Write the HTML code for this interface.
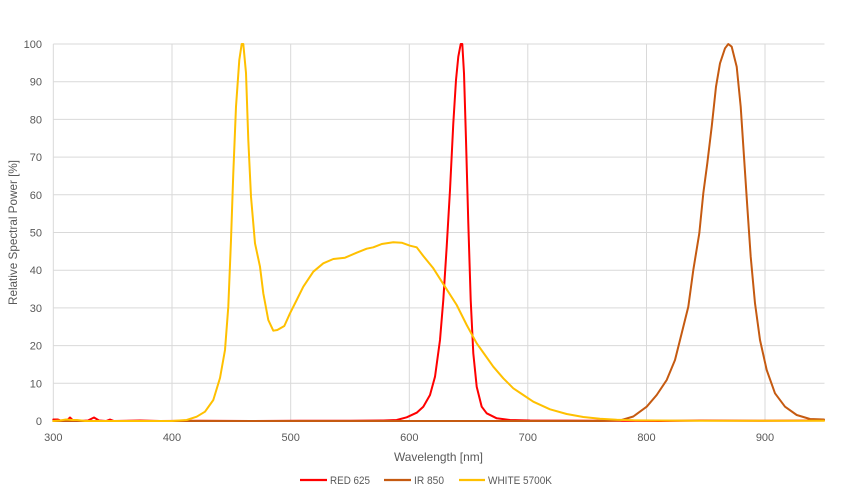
<!DOCTYPE html>
<html><head><meta charset="utf-8"><style>
html,body{margin:0;padding:0;background:#fff;}
svg{display:block;font-family:"Liberation Sans",sans-serif;}
</style></head><body>
<svg width="847" height="495" viewBox="0 0 847 495" xmlns="http://www.w3.org/2000/svg">
<rect width="847" height="495" fill="#fff"/>
<g stroke="#d9d9d9" stroke-width="1" fill="none">
<line x1="53.3" y1="44" x2="824.5" y2="44"/>
<line x1="53.3" y1="81.7" x2="824.5" y2="81.7"/>
<line x1="53.3" y1="119.4" x2="824.5" y2="119.4"/>
<line x1="53.3" y1="157.1" x2="824.5" y2="157.1"/>
<line x1="53.3" y1="194.8" x2="824.5" y2="194.8"/>
<line x1="53.3" y1="232.5" x2="824.5" y2="232.5"/>
<line x1="53.3" y1="270.2" x2="824.5" y2="270.2"/>
<line x1="53.3" y1="307.9" x2="824.5" y2="307.9"/>
<line x1="53.3" y1="345.6" x2="824.5" y2="345.6"/>
<line x1="53.3" y1="383.3" x2="824.5" y2="383.3"/>
<line x1="53.3" y1="421" x2="824.5" y2="421"/>
<line x1="53.3" y1="44" x2="53.3" y2="421"/>
<line x1="172" y1="44" x2="172" y2="421"/>
<line x1="290.7" y1="44" x2="290.7" y2="421"/>
<line x1="409.3" y1="44" x2="409.3" y2="421"/>
<line x1="527.8" y1="44" x2="527.8" y2="421"/>
<line x1="646.5" y1="44" x2="646.5" y2="421"/>
<line x1="765" y1="44" x2="765" y2="421"/>
</g>
<g fill="#595959" font-size="11" text-anchor="end">
<text x="42" y="48">100</text>
<text x="42" y="85.7">90</text>
<text x="42" y="123.4">80</text>
<text x="42" y="161.1">70</text>
<text x="42" y="198.8">60</text>
<text x="42" y="236.5">50</text>
<text x="42" y="274.2">40</text>
<text x="42" y="311.9">30</text>
<text x="42" y="349.6">20</text>
<text x="42" y="387.3">10</text>
<text x="42" y="425">0</text>
</g>
<g fill="#595959" font-size="11" text-anchor="middle">
<text x="53.3" y="441">300</text>
<text x="172" y="441">400</text>
<text x="290.7" y="441">500</text>
<text x="409.3" y="441">600</text>
<text x="527.8" y="441">700</text>
<text x="646.5" y="441">800</text>
<text x="765" y="441">900</text>
</g>
<g fill="#595959" font-size="12" text-anchor="middle">
<text x="438.5" y="461" textLength="89" lengthAdjust="spacingAndGlyphs">Wavelength [nm]</text>
<text transform="translate(17,232.5) rotate(-90)" textLength="145" lengthAdjust="spacingAndGlyphs">Relative Spectral Power [%]</text>
</g>
<g fill="none" stroke-width="2" stroke-linejoin="round" stroke-linecap="round">
<polyline stroke="#FF0000" points="53.3,419.5 58,419.5 62,421 67,420.5 70,417.5 73,420.5 80,421 88,420.5 94,417.5 99,420.5 106,421 110,419.5 114,421 140,420.5 160,421 200,420.7 250,421 300,420.7 350,420.8 383.3,420.5 396.7,420 406.7,417.3 416.7,412.7 423.3,406.7 430,395 435,376.7 440,340 443.3,300 446.7,246.7 450,190 453.3,123.3 456,80 458.3,56.7 460.7,44 462.3,44 464,73.3 466,140 468.3,223.3 470.7,300 473.3,353.3 476.7,386.7 481.7,406.7 486.7,413.3 496.7,418.3 510,420 530,420.5 600,420.7 660,421 700,420.5 760,420.7 824,420.5"/>
<polyline stroke="#C55A11" points="53.3,421 600,421 620,420.5 626.7,418.5 633.3,416.5 646.7,406.7 656.7,395 666.7,380 675,360 681.7,333.3 688.3,306.7 693.3,270 699.3,233.3 703.3,193.3 707.3,163.3 711.7,126.7 716,86.7 720,63.3 725,48.3 728.3,44 731.7,46.7 736.7,66.7 740.7,106.7 744,156.7 747.3,206.7 750.7,256.7 755,303.3 760,340 766.7,370 775,393.3 785,406.7 796.7,415 810,419 824,419.5"/>
<polyline stroke="#FFC000" points="53.3,421 60,420.5 66,419.5 72,420 77,420 85,421 100,421 130,421 172,421 186.7,420 196.7,416.7 205,411.7 213.3,400 220,378 225,350 228.3,306.7 231,240 233.3,173 236,106.7 239.3,60 241.7,44 243.3,44 246,73 248.3,140 251,196.7 255,243.3 260,266.7 263.3,293.3 268.3,320 273.3,330.7 277.3,330 284.3,326 290,313.3 296.7,300 303.3,286.7 313.3,271.7 323.3,263.3 333.3,259 345,257.7 356.7,252.7 366.7,248.7 373.3,247.3 381.7,244 393.3,242.3 401.7,242.7 410,245.7 416.7,247.3 423.3,256 433.3,268.3 445,286.7 456.7,305 466.7,325 476.7,343.3 485,355 493.3,366.7 503.3,378.3 513.3,388.3 523.3,395 533.3,401.7 550,409.3 566.7,414 583.3,417 600,418.7 616.7,419.7 633.3,420.3 700,420.8 824,420.8"/>
</g>
<g stroke-width="2.2">
<line x1="300" y1="480" x2="327" y2="480" stroke="#FF0000"/>
<line x1="384" y1="480" x2="411" y2="480" stroke="#C55A11"/>
<line x1="459" y1="480" x2="485" y2="480" stroke="#FFC000"/>
</g>
<g fill="#595959" font-size="11">
<text x="330" y="484" textLength="40" lengthAdjust="spacingAndGlyphs">RED 625</text>
<text x="414" y="484" textLength="30" lengthAdjust="spacingAndGlyphs">IR 850</text>
<text x="488" y="484" textLength="64" lengthAdjust="spacingAndGlyphs">WHITE 5700K</text>
</g>
</svg>
</body></html>
